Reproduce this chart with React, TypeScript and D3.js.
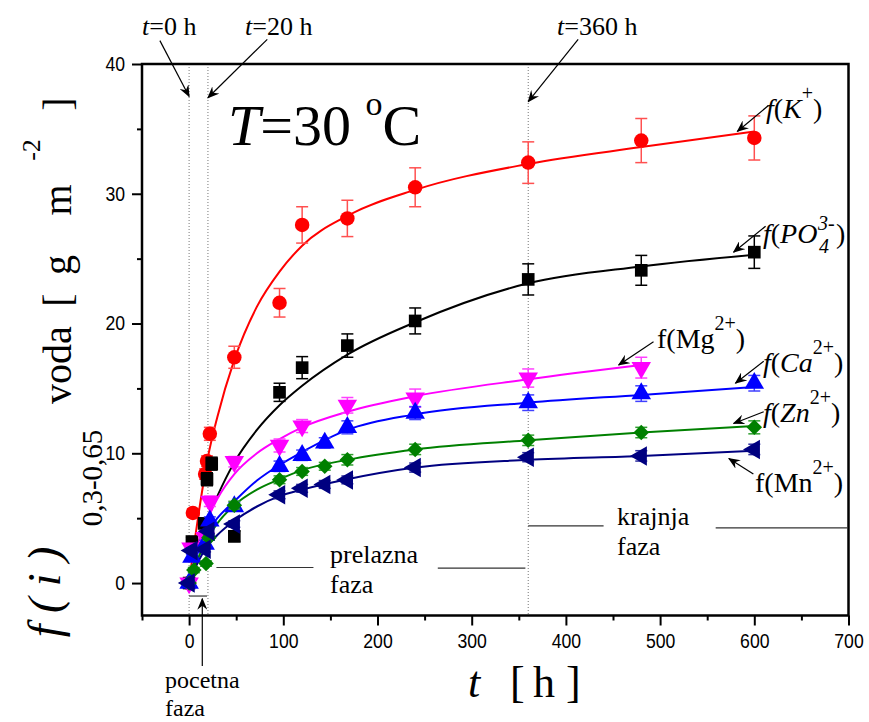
import React, { useEffect, useRef } from "react";
import * as d3 from "d3";

// measured points: time [h], value [g m-2], error
const kTime = [0, 4, 17, 19, 22, 48, 96, 120, 168, 240, 360, 480, 600];
const kVal = [0, 5.4, 8.4, 9.4, 11.5, 17.4, 21.6, 27.6, 28.1, 30.5, 32.4, 34.1, 34.3];
const kErr = [0.2, 0.3, 0.4, 0.4, 0.5, 0.85, 1.1, 1.4, 1.4, 1.5, 1.6, 1.7, 1.7];

const poTime = [0, 3, 16, 19, 24, 48, 96, 120, 168, 240, 360, 480, 600];
const poVal = [0, 3.2, 4.6, 8.0, 9.2, 3.6, 14.7, 16.6, 18.3, 20.2, 23.4, 24.1, 25.5];
const poErr = [0.2, 0.3, 0.4, 0.5, 0.5, 0.4, 0.7, 0.85, 0.9, 1.0, 1.2, 1.15, 1.25];

const mgTime = [0, 2, 17, 22, 48, 96, 120, 168, 240, 360, 480];
const mgVal = [0, 2.7, 3.5, 6.3, 9.35, 10.6, 12.1, 13.7, 14.25, 15.8, 16.6];
const mgErr = [0.2, 0.3, 0.3, 0.4, 0.4, 0.5, 0.5, 0.6, 0.7, 0.7, 0.8];

const caTime = [0, 3, 17, 22, 48, 96, 120, 144, 168, 240, 360, 480, 600];
const caVal = [0, 2.0, 3.0, 4.8, 5.9, 9.0, 9.85, 10.8, 12.0, 13.1, 13.9, 14.6, 15.4];
const caErr = [0.2, 0.2, 0.3, 0.3, 0.3, 0.4, 0.4, 0.4, 0.5, 0.5, 0.6, 0.6, 0.6];

const znTime = [0, 5, 18, 21, 48, 96, 120, 144, 168, 240, 360, 480, 600];
const znVal = [0, 1.0, 1.5, 3.5, 6.0, 7.96, 8.6, 9.0, 9.5, 10.3, 11.0, 11.6, 12.0];
const znErr = [0.1, 0.2, 0.2, 0.2, 0.3, 0.3, 0.3, 0.3, 0.4, 0.4, 0.4, 0.4, 0.5];

const mnTime = [0, 3, 17, 21, 48, 96, 120, 144, 168, 240, 360, 480, 600];
const mnVal = [0, 2.5, 2.6, 4.0, 4.55, 6.8, 7.3, 7.6, 7.95, 8.9, 9.7, 9.8, 10.3];
const mnErr = [0.1, 0.2, 0.2, 0.2, 0.25, 0.3, 0.3, 0.3, 0.3, 0.35, 0.35, 0.4, 0.4];

// fitted curves
const fitTime = [0, 5, 10, 20, 30, 48, 72, 96, 120, 168, 240, 360, 480, 600];
const kFit = [0, 2.8, 5.3, 9.7, 12.8, 17.2, 21.3, 24.0, 26.0, 28.3, 30.3, 32.3, 33.6, 34.8];
const poFit = [0, 1.8, 3.0, 5.0, 6.7, 9.3, 11.8, 13.7, 15.2, 17.6, 20.1, 23.1, 24.4, 25.3];
const mgFit = [0, 1.8, 3.2, 5.0, 6.5, 8.4, 10.0, 11.1, 12.0, 13.2, 14.4, 15.7, 16.8];
const caFit = [0, 1.4, 2.5, 4.0, 5.0, 6.3, 7.9, 9.1, 10.1, 11.8, 13.0, 13.9, 14.5, 15.1];
const znFit = [0, 1.1, 2.0, 3.5, 4.6, 6.0, 7.2, 8.0, 8.7, 9.5, 10.3, 11.0, 11.6, 12.1];
const mnFit = [0, 0.9, 1.7, 2.9, 3.7, 4.8, 5.9, 6.7, 7.2, 8.0, 8.9, 9.5, 9.8, 10.2];

const xMajor = [0, 100, 200, 300, 400, 500, 600, 700];
const xMinor = [-50, 50, 150, 250, 350, 450, 550, 650];
const yMajor = [0, 10, 20, 30, 40];
const yMinor = [5, 15, 25, 35];
const phaseTimes = [0, 20, 360];

const W = 869;
const H = 722;
const plot = { left: 142, right: 848.5, top: 64, bottom: 615.5 };

const x = d3.scaleLinear().domain([-50, 700]).range([plot.left, plot.right]);
const y = d3.scaleLinear().domain([-2.5, 40]).range([plot.bottom, plot.top]);

const series = [
  { t: kTime, v: kVal, e: kErr, fit: kFit, color: "#ff0000", bar: "#ff5050", shape: "circle" },
  { t: poTime, v: poVal, e: poErr, fit: poFit, color: "#000000", bar: "#000000", shape: "square" },
  { t: mgTime, v: mgVal, e: mgErr, fit: mgFit, color: "#ff00ff", bar: "#ff40ff", shape: "down" },
  { t: caTime, v: caVal, e: caErr, fit: caFit, color: "#0000ff", bar: "#4040ff", shape: "up" },
  { t: znTime, v: znVal, e: znErr, fit: znFit, color: "#008000", bar: "#30a030", shape: "diamond" },
  { t: mnTime, v: mnVal, e: mnErr, fit: mnFit, color: "#000080", bar: "#3030a0", shape: "left" },
];

// annotation arrows in data units: [t0, v0, t1, v1]
const arrows = [
  [-31, 41.8, 0, 37.5],
  [83, 41.9, 20, 37.4],
  [413, 41.9, 360, 37.1],
  [615, 36.8, 582, 34.8],
  [612, 27.5, 578, 25.5],
  [493, 18.6, 456, 16.8],
  [610, 17.1, 580, 15.4],
  [610, 13.2, 578, 12.3],
  [599, 8.4, 573, 9.6],
  [14, -6.4, 14, -1.2],
];
// phase separators: [t0, t1, v]
const phaseLines = [
  [29, 132, 1.2],
  [264, 357, 1.15],
  [360, 440, 4.4],
  [559, 699, 4.25],
  [0, 19, -1.0],
];

const serif = "Liberation Serif";
const sans = "Liberation Sans";

function symbolPath(shape: string) {
  if (shape === "circle") return d3.symbol(d3.symbolCircle, 165)();
  if (shape === "square") return d3.symbol(d3.symbolSquare, 160)();
  if (shape === "diamond") return d3.symbol(d3.symbolSquare, 120)();
  return d3.symbol(d3.symbolTriangle, 165)();
}
function symbolRotate(shape: string) {
  if (shape === "down") return 180;
  if (shape === "left") return -90;
  if (shape === "diamond") return 45;
  return 0;
}

const App = () => {
  const ref = useRef<SVGGElement>(null);

  useEffect(() => {
    const g = d3.select(ref.current);
    g.selectAll("*").remove();

    // dotted phase markers
    g.selectAll("line.phase")
      .data(phaseTimes)
      .enter()
      .append("line")
      .attr("x1", (d) => x(d))
      .attr("x2", (d) => x(d))
      .attr("y1", plot.top)
      .attr("y2", plot.bottom)
      .attr("stroke", "#777")
      .attr("stroke-width", 1)
      .attr("stroke-dasharray", "1,2");

    // axes
    const axX = g.append("g").attr("transform", "translate(0," + plot.bottom + ")");
    axX.call(d3.axisBottom(x).tickValues(xMinor).tickSize(5).tickFormat(() => ""));
    const axX2 = g.append("g").attr("transform", "translate(0," + plot.bottom + ")");
    axX2.call(d3.axisBottom(x).tickValues(xMajor).tickSize(10).tickPadding(8));
    const axY = g.append("g").attr("transform", "translate(" + plot.left + ",0)");
    axY.call(d3.axisLeft(y).tickValues(yMinor).tickSize(5).tickFormat(() => ""));
    const axY2 = g.append("g").attr("transform", "translate(" + plot.left + ",0)");
    axY2.call(d3.axisLeft(y).tickValues(yMajor).tickSize(10).tickPadding(7));
    [axX, axX2, axY, axY2].forEach((a) => {
      a.select(".domain").remove();
      a.selectAll("line").attr("stroke-width", 2);
      a.selectAll("text")
        .attr("font-family", sans)
        .attr("font-size", 20)
        .attr("fill", "#000")
        .attr("textLength", (d: any) => String(d).length * 9.8)
        .attr("lengthAdjust", "spacingAndGlyphs");
    });

    // frame
    g.append("rect")
      .attr("x", plot.left)
      .attr("y", plot.top)
      .attr("width", plot.right - plot.left)
      .attr("height", plot.bottom - plot.top)
      .attr("fill", "none")
      .attr("stroke", "#000")
      .attr("stroke-width", 2.5);

    const line = d3
      .line<number>()
      .x((d, i) => x(fitTime[i]))
      .y((d) => y(d))
      .curve(d3.curveMonotoneX);

    series.forEach((s) => {
      g.append("path")
        .datum(s.fit)
        .attr("fill", "none")
        .attr("stroke", s.color)
        .attr("stroke-width", 2)
        .attr("d", line);
    });

    series.forEach((s) => {
      const pts = s.t.map((t, i) => ({ t, v: s.v[i], e: s.e[i] }));
      const eb = g.append("g").attr("stroke", s.bar).attr("stroke-width", 1.5);
      pts.forEach((p) => {
        const cx = x(p.t);
        eb.append("line").attr("x1", cx).attr("x2", cx).attr("y1", y(p.v - p.e)).attr("y2", y(p.v + p.e));
        [p.v - p.e, p.v + p.e].forEach((v) =>
          eb.append("line").attr("x1", cx - 6).attr("x2", cx + 6).attr("y1", y(v)).attr("y2", y(v))
        );
      });
      g.append("g")
        .selectAll("path")
        .data(pts)
        .enter()
        .append("path")
        .attr("d", symbolPath(s.shape))
        .attr("fill", s.color)
        .attr("transform", (p) => "translate(" + x(p.t) + "," + y(p.v) + ") rotate(" + symbolRotate(s.shape) + ")");
    });

    // annotation lines and arrows
    g.selectAll("line.sep")
      .data(phaseLines)
      .enter()
      .append("line")
      .attr("x1", (d) => x(d[0]))
      .attr("x2", (d) => x(d[1]))
      .attr("y1", (d) => y(d[2]))
      .attr("y2", (d) => y(d[2]))
      .attr("stroke", "#333")
      .attr("stroke-width", 1.2);

    g.selectAll("line.arrow")
      .data(arrows)
      .enter()
      .append("line")
      .attr("x1", (d) => x(d[0]))
      .attr("y1", (d) => y(d[1]))
      .attr("x2", (d) => x(d[2]))
      .attr("y2", (d) => y(d[3]))
      .attr("stroke", "#000")
      .attr("stroke-width", 1.2)
      .attr("marker-end", "url(#arrowhead)");
  }, []);

  const sup = { fontSize: 20 };
  return (
    <svg width={W} height={H} style={{ position: "absolute", left: 0, top: 0, background: "#fff" }}>
      <defs>
        <marker id="arrowhead" viewBox="0 0 12 10" refX="11" refY="5" markerWidth="12" markerHeight="10" markerUnits="userSpaceOnUse" orient="auto">
          <path d="M0,0 L12,5 L0,10 L4,5 Z" fill="#000" />
        </marker>
      </defs>
      <g ref={ref} />
      <g style={{ fontFamily: serif, whiteSpace: "pre" }} fill="#000">
        <text x={142} y={35} fontSize={26}><tspan fontStyle="italic">t</tspan>=0 h</text>
        <text x={245} y={35} fontSize={26}><tspan fontStyle="italic">t</tspan>=20 h</text>
        <text x={557} y={35} fontSize={26}><tspan fontStyle="italic">t</tspan>=360 h</text>

        <text x={228} y={145} fontSize={58}>
          <tspan fontStyle="italic">T</tspan>=30 <tspan fontSize={34} dy={-30}>o</tspan><tspan dy={30}>C</tspan>
        </text>

        <text x={766} y={118} fontSize={28}>
          <tspan fontStyle="italic">f</tspan>(<tspan fontStyle="italic">K</tspan><tspan style={sup} dy={-18}>+</tspan><tspan dy={18}>)</tspan>
        </text>
        <text x={763} y={243} fontSize={28}>
          <tspan fontStyle="italic">f</tspan>(<tspan fontStyle="italic">PO</tspan>
        </text>
        <text x={818} y={230} fontSize={20} fontStyle="italic">3-</text>
        <text x={819} y={253} fontSize={20} fontStyle="italic">4</text>
        <text x={836} y={243} fontSize={28}>)</text>
        <text x={657} y={348} fontSize={28}>
          f(Mg<tspan style={sup} dy={-18}>2+</tspan><tspan dy={18}>)</tspan>
        </text>
        <text x={763} y={372} fontSize={28}>
          <tspan fontStyle="italic">f</tspan>(<tspan fontStyle="italic">Ca</tspan><tspan style={sup} dy={-18}>2+</tspan><tspan dy={18}>)</tspan>
        </text>
        <text x={763} y={422} fontSize={28}>
          <tspan fontStyle="italic">f</tspan>(<tspan fontStyle="italic">Zn</tspan><tspan style={sup} dy={-18}>2+</tspan><tspan dy={18}>)</tspan>
        </text>
        <text x={755} y={492} fontSize={28}>
          f(Mn<tspan style={sup} dy={-18}>2+</tspan><tspan dy={18}>)</tspan>
        </text>

        <text x={330} y={563} fontSize={26}>prelazna</text>
        <text x={330} y={593} fontSize={26}>faza</text>
        <text x={617} y={525} fontSize={26}>krajnja</text>
        <text x={617} y={555} fontSize={26}>faza</text>
        <text x={165} y={688} fontSize={24}>pocetna</text>
        <text x={165} y={716} fontSize={24}>faza</text>

        <text x={468} y={697} fontSize={44} fontStyle="italic">t</text>
        <text x={510} y={697} fontSize={44}>[</text>
        <text x={533} y={697} fontSize={44}>h</text>
        <text x={566} y={697} fontSize={44}>]</text>

        <text transform="translate(60,592) rotate(-90)" textAnchor="middle" fontSize={46} fontStyle="italic">{"f ( i )"}</text>
        <text transform="translate(102,478) rotate(-90)" textAnchor="middle" fontSize={29}>0,3-0,65</text>
        <text transform="translate(71,365) rotate(-90)" textAnchor="middle" fontSize={40}>voda</text>
        <text transform="translate(71,300) rotate(-90)" textAnchor="middle" fontSize={40}>[</text>
        <text transform="translate(71,265) rotate(-90)" textAnchor="middle" fontSize={40}>g</text>
        <text transform="translate(71,200) rotate(-90)" textAnchor="middle" fontSize={40}>m</text>
        <text transform="translate(40,150) rotate(-90)" textAnchor="middle" fontSize={26}>-2</text>
        <text transform="translate(71,104) rotate(-90)" textAnchor="middle" fontSize={40}>]</text>
      </g>
    </svg>
  );
};

export default App;
